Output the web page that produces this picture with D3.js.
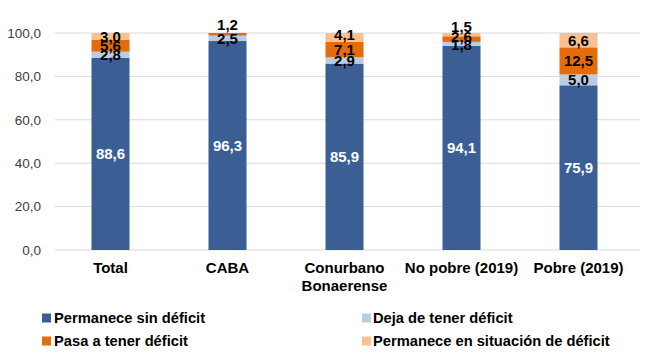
<!DOCTYPE html>
<html>
<head>
<meta charset="utf-8">
<script src="https://cdn.jsdelivr.net/npm/d3@7"></script>
<style>
  body { margin: 0; background: #fff; }
  #chart { width: 650px; height: 364px; }
  text { font-family: "Liberation Sans", Arial, sans-serif; }
</style>
</head>
<body>
<div id="chart"></div>
<script>

// categories and series
const categories = ["Total", "CABA", "Conurbano Bonaerense", "No pobre (2019)", "Pobre (2019)"];
const seriesNames = ["Permanece sin déficit", "Deja de tener déficit", "Pasa a tener déficit", "Permanece en situación de déficit"];
const sinDeficit = [88.6, 96.3, 85.9, 94.1, 75.9];
const dejaDeficit = [2.8, 2.5, 2.9, 1.8, 5.0];
const pasaDeficit = [5.6, 1.2, 7.1, 2.6, 12.5];
const permaneceDeficit = [3.0, 0, 4.1, 1.5, 6.6];
const yTicks = [0, 20, 40, 60, 80, 100];

const colors = ["#3b5f95", "#b9cde5", "#e46c0a", "#fac08f"];

const width = 650, height = 364;
const margin = {top: 33, left: 52, right: 13, bottom: 114};

const svg = d3.select("#chart").append("svg")
    .attr("width", width)
    .attr("height", height);

const keys = ["s0", "s1", "s2", "s3"];
const data = categories.map(function(c, i) {
    return {cat: c, s0: sinDeficit[i], s1: dejaDeficit[i], s2: pasaDeficit[i], s3: permaneceDeficit[i]};
});

const series = d3.stack().keys(keys)(data);

const xScale = d3.scaleBand()
    .domain(categories)
    .range([margin.left, width - margin.right])
    .paddingInner(0.675)
    .paddingOuter(0.3375);

const yScale = d3.scaleLinear()
    .domain([0, 100])
    .range([height - margin.bottom, margin.top]);

// gridlines
svg.append("g")
    .selectAll("line")
    .data(yTicks)
    .enter()
    .append("line")
    .attr("x1", 55)
    .attr("x2", width - 10)
    .attr("y1", function(d) { return yScale(d); })
    .attr("y2", function(d) { return yScale(d); })
    .attr("stroke", "#d9d9d9")
    .attr("stroke-width", 1);

const fmt = function(v) { return d3.format(".1f")(v).replace(".", ","); };

// y axis labels
const yAxis = svg.append("g")
    .attr("transform", "translate(46,0)")
    .call(d3.axisLeft(yScale).tickValues(yTicks).tickSize(0).tickPadding(5).tickFormat(fmt));
yAxis.select(".domain").remove();
yAxis.selectAll("text")
    .attr("font-size", 13.5)
    .attr("fill", "#404040")
    .style("font-family", "'Liberation Sans', Arial, sans-serif");

// bars
svg.append("g")
    .selectAll("g")
    .data(series)
    .enter()
    .append("g")
    .attr("fill", function(d, i) { return colors[i]; })
    .selectAll("rect")
    .data(function(d) { return d; })
    .enter()
    .append("rect")
    .attr("x", function(d) { return xScale(d.data.cat); })
    .attr("width", xScale.bandwidth())
    .attr("y", function(d) { return yScale(d[1]); })
    .attr("height", function(d) { return yScale(d[0]) - yScale(d[1]); });

// label nudges (category-series) for small segments, as placed in the original
const nudge = {"1-2": -10, "2-3": -3, "3-1": 1, "3-2": -2, "3-3": -8};

series.forEach(function(s, si) {
    s.forEach(function(d, ci) {
        const v = d[1] - d[0];
        if (v <= 0) return;
        const dy = nudge[ci + "-" + si] || 0;
        svg.append("text")
            .attr("x", xScale(d.data.cat) + xScale.bandwidth() / 2)
            .attr("y", yScale((d[0] + d[1]) / 2) + dy)
            .attr("dy", "0.36em")
            .attr("text-anchor", "middle")
            .attr("font-size", 15)
            .attr("font-weight", "bold")
            .attr("fill", si === 0 ? "#ffffff" : "#000000")
            .text(fmt(v));
    });
});

// category labels
const catLines = {"Conurbano Bonaerense": ["Conurbano", "Bonaerense"]};
categories.forEach(function(c) {
    const lines = catLines[c] || [c];
    const t = svg.append("text")
        .attr("x", xScale(c) + xScale.bandwidth() / 2)
        .attr("y", 273)
        .attr("text-anchor", "middle")
        .attr("font-size", 15)
        .attr("font-weight", "bold")
        .attr("fill", "#000");
    lines.forEach(function(l, i) {
        t.append("tspan")
            .attr("x", xScale(c) + xScale.bandwidth() / 2)
            .attr("dy", i === 0 ? 0 : 18)
            .text(l);
    });
});

// legend
const legendPos = [[42, 318], [362, 318], [42, 341], [362, 341]];
seriesNames.forEach(function(n, i) {
    const g = svg.append("g")
        .attr("transform", `translate(${legendPos[i][0]},${legendPos[i][1]})`);
    g.append("rect")
        .attr("x", 0)
        .attr("y", -4.5)
        .attr("width", 9)
        .attr("height", 9)
        .attr("fill", colors[i]);
    g.append("text")
        .attr("x", i % 2 === 0 ? 12 : 11)
        .attr("y", 0)
        .attr("dy", "0.36em")
        .attr("font-size", 14.7)
        .attr("font-weight", "bold")
        .attr("fill", "#000")
        .text(n);
});

</script>
</body>
</html>
